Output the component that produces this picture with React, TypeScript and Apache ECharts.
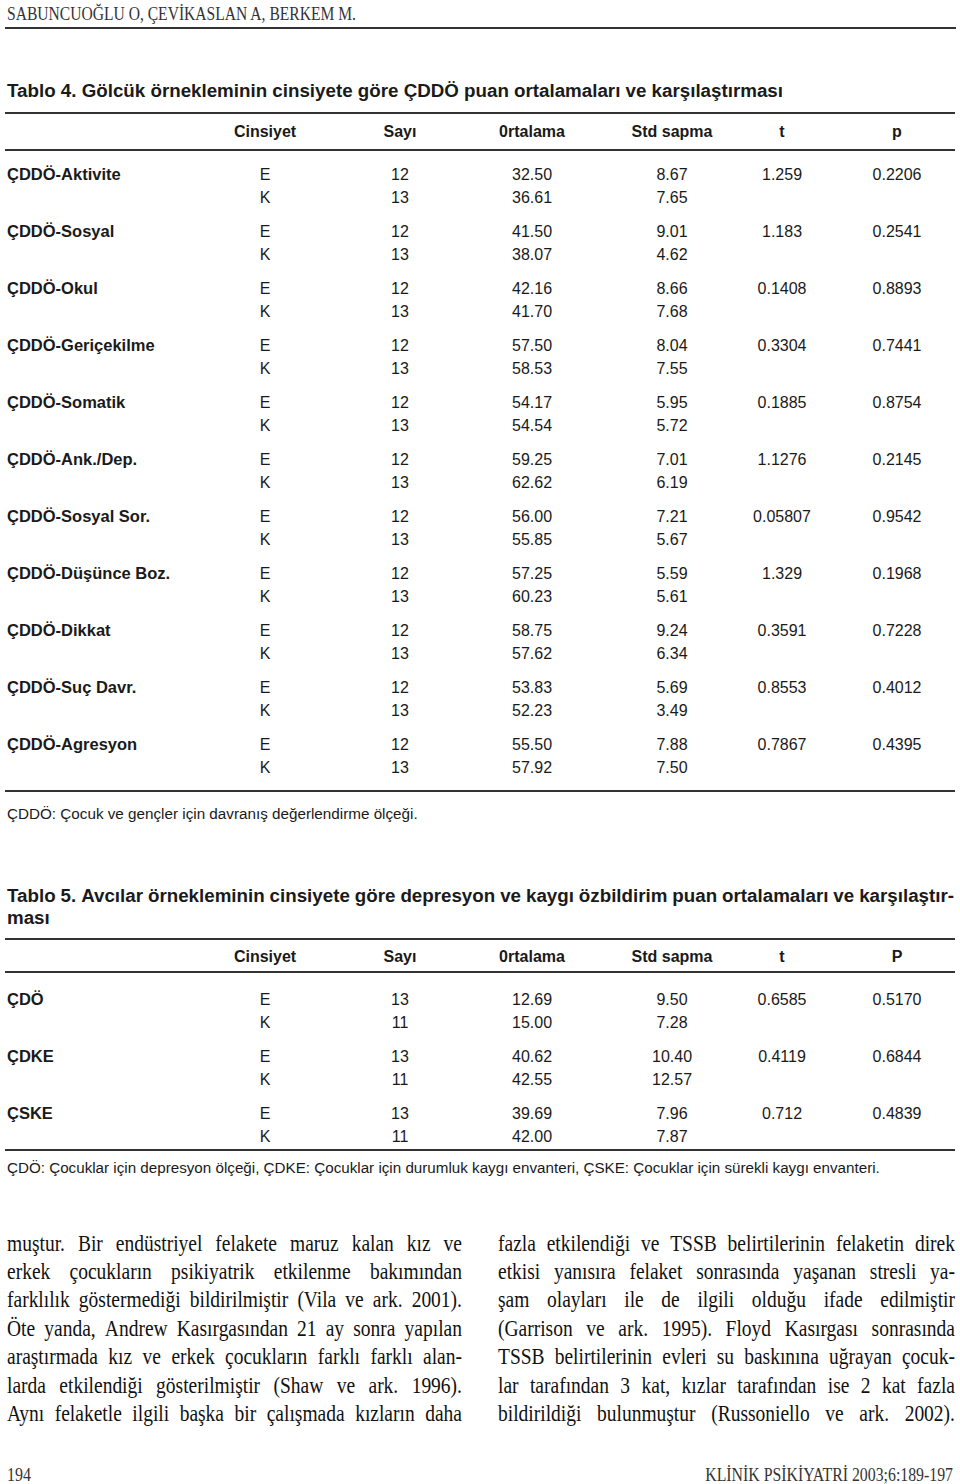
import React, { useEffect, useRef } from "react";
import * as echarts from "echarts";

// ---------- DATA ----------
const runningHead = "SABUNCUOĞLU O, ÇEVİKASLAN A, BERKEM M.";
const table4Title = "Tablo 4. Gölcük örnekleminin cinsiyete göre ÇDDÖ puan ortalamaları ve karşılaştırması";
const table4Headers = ["Cinsiyet", "Sayı", "0rtalama", "Std sapma", "t", "p"];
const table4Scales = [
  "ÇDDÖ-Aktivite", "ÇDDÖ-Sosyal", "ÇDDÖ-Okul", "ÇDDÖ-Geriçekilme", "ÇDDÖ-Somatik",
  "ÇDDÖ-Ank./Dep.", "ÇDDÖ-Sosyal Sor.", "ÇDDÖ-Düşünce Boz.", "ÇDDÖ-Dikkat",
  "ÇDDÖ-Suç Davr.", "ÇDDÖ-Agresyon",
];
const sexes = ["E", "K"];
const table4Counts = ["12", "13"];
const table4MeanE = ["32.50", "41.50", "42.16", "57.50", "54.17", "59.25", "56.00", "57.25", "58.75", "53.83", "55.50"];
const table4MeanK = ["36.61", "38.07", "41.70", "58.53", "54.54", "62.62", "55.85", "60.23", "57.62", "52.23", "57.92"];
const table4SdE = ["8.67", "9.01", "8.66", "8.04", "5.95", "7.01", "7.21", "5.59", "9.24", "5.69", "7.88"];
const table4SdK = ["7.65", "4.62", "7.68", "7.55", "5.72", "6.19", "5.67", "5.61", "6.34", "3.49", "7.50"];
const table4T = ["1.259", "1.183", "0.1408", "0.3304", "0.1885", "1.1276", "0.05807", "1.329", "0.3591", "0.8553", "0.7867"];
const table4P = ["0.2206", "0.2541", "0.8893", "0.7441", "0.8754", "0.2145", "0.9542", "0.1968", "0.7228", "0.4012", "0.4395"];
const table4Note = "ÇDDÖ: Çocuk ve gençler için davranış değerlendirme ölçeği.";

const table5TitleLines = [
  "Tablo 5. Avcılar örnekleminin cinsiyete göre depresyon ve kaygı özbildirim puan ortalamaları ve karşılaştır-",
  "ması",
];
const table5Headers = ["Cinsiyet", "Sayı", "0rtalama", "Std sapma", "t", "P"];
const table5Scales = ["ÇDÖ", "ÇDKE", "ÇSKE"];
const table5Counts = ["13", "11"];
const table5MeanE = ["12.69", "40.62", "39.69"];
const table5MeanK = ["15.00", "42.55", "42.00"];
const table5SdE = ["9.50", "10.40", "7.96"];
const table5SdK = ["7.28", "12.57", "7.87"];
const table5T = ["0.6585", "0.4119", "0.712"];
const table5P = ["0.5170", "0.6844", "0.4839"];
const table5Note =
  "ÇDÖ: Çocuklar için depresyon ölçeği, ÇDKE: Çocuklar için durumluk kaygı envanteri, ÇSKE: Çocuklar için sürekli kaygı envanteri.";

const bodyLeft = [
  "muştur. Bir endüstriyel felakete maruz kalan kız ve",
  "erkek çocukların psikiyatrik etkilenme bakımından",
  "farklılık göstermediği bildirilmiştir (Vila ve ark. 2001).",
  "Öte yanda, Andrew Kasırgasından 21 ay sonra yapılan",
  "araştırmada kız ve erkek çocukların farklı farklı alan-",
  "larda etkilendiği gösterilmiştir (Shaw ve ark. 1996).",
  "Aynı felaketle ilgili başka bir çalışmada kızların daha",
];
const bodyRight = [
  "fazla etkilendiği ve TSSB belirtilerinin felaketin direk",
  "etkisi yanısıra felaket sonrasında yaşanan stresli ya-",
  "şam olayları ile de ilgili olduğu ifade edilmiştir",
  "(Garrison ve ark. 1995). Floyd Kasırgası sonrasında",
  "TSSB belirtilerinin evleri su baskınına uğrayan çocuk-",
  "lar tarafından 3 kat, kızlar tarafından ise 2 kat fazla",
  "bildirildiği bulunmuştur (Russoniello ve ark. 2002).",
];
const pageNumber = "194";
const journalRef = "KLİNİK PSİKİYATRİ 2003;6:189-197";

// ---------- LAYOUT ----------
const SANS = '"Liberation Sans", Arial, sans-serif';
const SERIF = '"Liberation Serif", "Times New Roman", serif';
const INK = "#1a1a1a";
const RULE = "#333333";
const colCenters = [265, 400, 532, 672, 782, 897];

let measureCtx: CanvasRenderingContext2D | null = null;
function measure(text: string, size: number, family: string, weight = "normal") {
  if (!measureCtx) measureCtx = document.createElement("canvas").getContext("2d");
  measureCtx!.font = `${weight} ${size}px ${family}`;
  return measureCtx!.measureText(text).width;
}
function fitSize(text: string, target: number, family: string, weight = "normal") {
  return (100 * target) / measure(text, 100, family, weight);
}

function txt(text: string, x: number, y: number, size: number, opts: any = {}) {
  return {
    type: "text",
    x,
    y,
    scaleY: opts.scaleY || 1,
    silent: true,
    style: {
      text,
      fill: opts.fill || INK,
      fontSize: size,
      fontFamily: opts.family || SANS,
      fontWeight: opts.weight || "normal",
      textAlign: opts.align || "left",
      textVerticalAlign: "middle",
    },
  };
}
function rule(x1: number, x2: number, y: number, w = 2) {
  return {
    type: "line",
    silent: true,
    shape: { x1, y1: y, x2, y2: y },
    style: { stroke: RULE, lineWidth: w },
  };
}
function justified(line: string, x0: number, x1: number, y: number, size: number, family: string, weight = "normal", fill = INK, scaleY = 1) {
  const words = line.split(" ");
  const widths = words.map((w) => measure(w, size, family, weight));
  const total = widths.reduce((a, b) => a + b, 0);
  const gap = words.length > 1 ? (x1 - x0 - total) / (words.length - 1) : 0;
  const out: any[] = [];
  let x = x0;
  words.forEach((w, i) => {
    out.push(txt(w, x, y, size, { family, weight, fill, scaleY }));
    x += widths[i] + gap;
  });
  return out;
}

function buildTable(
  y0: number,
  headers: string[],
  scales: string[],
  counts: string[],
  meanE: string[],
  meanK: string[],
  sdE: string[],
  sdK: string[],
  tv: string[],
  pv: string[],
  step: number,
  subStep: number
) {
  const els: any[] = [];
  const FS = 16;
  headers.forEach((h, i) => els.push(txt(h, colCenters[i], y0, FS, { weight: "bold", align: "center" })));
  scales.forEach((s, g) => {
    const yE = y0 + 43 + g * step;
    const yK = yE + subStep;
    els.push(txt(s, 7, yE, 16.5, { weight: "bold" }));
    const rowE = [sexes[0], counts[0], meanE[g], sdE[g], tv[g], pv[g]];
    const rowK = [sexes[1], counts[1], meanK[g], sdK[g]];
    rowE.forEach((v, i) => els.push(txt(v, colCenters[i], yE, FS, { align: "center" })));
    rowK.forEach((v, i) => els.push(txt(v, colCenters[i], yK, FS, { align: "center" })));
  });
  return els;
}

function buildOption() {
  const els: any[] = [];
  // running head
  els.push(txt(runningHead, 7, 14, fitSize(runningHead, 350, SERIF), { family: SERIF, fill: "#333", scaleY: 1.18 }));
  els.push(rule(5, 956, 28, 2));

  // Table 4
  const titleSize = fitSize(table4Title, 776, SANS, "bold");
  els.push(txt(table4Title, 7, 90, titleSize, { weight: "bold" }));
  els.push(rule(5, 955, 113, 2.2));
  els.push(...buildTable(131, table4Headers, table4Scales, table4Counts, table4MeanE, table4MeanK, table4SdE, table4SdK, table4T, table4P, 57, 23.5));
  els.push(rule(5, 955, 150, 2.2));
  els.push(rule(5, 955, 791, 2.2));
  els.push(txt(table4Note, 7, 813, fitSize(table4Note, 411, SANS), {}));

  // Table 5
  els.push(...justified(table5TitleLines[0], 7, 954, 895, titleSize, SANS, "bold"));
  els.push(txt(table5TitleLines[1], 7, 917, titleSize, { weight: "bold" }));
  els.push(rule(5, 955, 939, 2.2));
  els.push(...buildTable(956, table5Headers, table5Scales, table5Counts, table5MeanE, table5MeanK, table5SdE, table5SdK, table5T, table5P, 57, 23));
  els.push(rule(5, 955, 972, 2.2));
  els.push(rule(5, 955, 1150, 2.2));
  els.push(txt(table5Note, 7, 1167, fitSize(table5Note, 873, SANS), {}));

  // Body text (two justified columns): size chosen so the tightest line keeps ~0.2em spaces
  const colW = 455;
  let bodySize = 19.5;
  [...bodyLeft, ...bodyRight].forEach((l) => {
    const words = l.split(" ");
    const w100 = words.reduce((a, w) => a + measure(w, 100, SERIF), 0) / 100;
    const s = colW / (w100 + (words.length - 1) * 0.2);
    bodySize = Math.min(bodySize, s);
  });
  const lineYs = [1244, 1272, 1300, 1329, 1357, 1386, 1414];
  bodyLeft.forEach((l, i) => els.push(...justified(l, 7, 462, lineYs[i], bodySize, SERIF, "normal", "#111", 1.15)));
  bodyRight.forEach((l, i) => els.push(...justified(l, 498, 955, lineYs[i], bodySize, SERIF, "normal", "#111", 1.15)));

  // Footer
  els.push(txt(pageNumber, 7, 1475, 16, { family: SERIF, fill: "#333", scaleY: 1.15 }));
  els.push(txt(journalRef, 953, 1475, fitSize(journalRef, 248, SERIF), { family: SERIF, align: "right", fill: "#333", scaleY: 1.18 }));

  return {
    animation: false,
    backgroundColor: "#ffffff",
    graphic: { elements: els },
  };
}

export default function App() {
  const ref = useRef<HTMLDivElement>(null);
  useEffect(() => {
    if (!ref.current) return;
    const chart = echarts.init(ref.current, undefined, { renderer: "svg" });
    chart.setOption(buildOption() as any);
    return () => chart.dispose();
  }, []);
  return (
    <div
      ref={ref}
      style={{ position: "absolute", left: 0, top: 0, width: 960, height: 1484, background: "#fff" }}
    />
  );
}
